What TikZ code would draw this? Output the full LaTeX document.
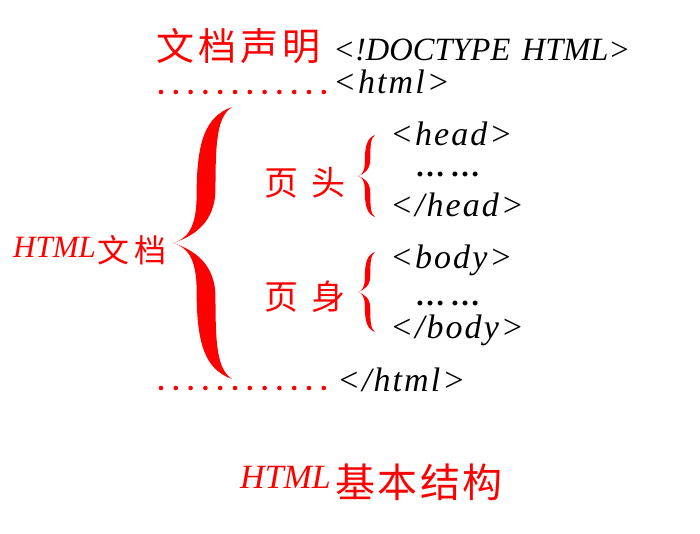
\documentclass[tikz,border=0pt]{standalone}
\usepackage{fontspec}
\setmainfont{Liberation Serif}
\newfontfamily\cjk{Noto Sans CJK SC}
\newfontfamily\tagfont[LetterSpace=6]{Liberation Serif}
\definecolor{cred}{RGB}{255,0,0}
\begin{document}
\begin{tikzpicture}[x=1pt,y=-1pt,
  redcjk/.style={text=cred, font=\cjk, inner sep=0pt, anchor=base west},
  redlatin/.style={text=cred, font=\itshape, inner sep=0pt, anchor=base west},
  tag/.style={text=black, font=\tagfont\itshape\fontsize{34}{34}\selectfont, inner sep=0pt, anchor=base west},
  dotsrow/.style={text=black, font=\bfseries\fontsize{30}{30}\selectfont, inner sep=0pt, anchor=base west},
  leader/.style={cred, line width=4.6pt, line cap=round, dash pattern=on 0pt off 14.8pt},
  bracepic/.pic={
    \fill (1,-1) .. controls (0.55,-0.93) and (0.4,-0.75) .. (0.4,-0.35)
      .. controls (0.4,-0.12) and (0.25,-0.03) .. (0,0)
      .. controls (0.35,-0.05) and (0.72,-0.15) .. (0.72,-0.4)
      .. controls (0.72,-0.75) and (0.75,-0.93) .. (1,-1) -- cycle;
    \fill (1,1) .. controls (0.55,0.93) and (0.4,0.75) .. (0.4,0.35)
      .. controls (0.4,0.12) and (0.25,0.03) .. (0,0)
      .. controls (0.35,0.05) and (0.72,0.15) .. (0.72,0.4)
      .. controls (0.72,0.75) and (0.75,0.93) .. (1,1) -- cycle;
  }]
\useasboundingbox[fill=white] (0,0) rectangle (700,533);

% top declaration
\node[redcjk] (decl) at (156,60) {\fontsize{38}{38}\selectfont 文\hspace{4pt}档\hspace{4pt}声\hspace{4pt}明};
\node[text=black, font=\itshape\fontsize{32.5}{32.5}\selectfont, inner sep=0pt, anchor=base west] (doctype) at (333,60) {<!DOCTYPE\hspace{0.35em}HTML>};

% html open
\coordinate (l1s) at (161,92);
\coordinate (l1e) at (324,92);
\draw[leader] (l1s) -- (l1e);
\node[tag] (htmlopen) at (333,93) {<html>};

% big brace
\pic[cred, xscale=59, yscale=136] (bigbrace) at (173,243) {bracepic};
\node[redlatin, font=\itshape\fontsize{31}{31}\selectfont] (htmlword) at (13,257) {HTML};
\node[redcjk] (wendang) at (97,262) {\fontsize{32}{32}\selectfont 文\hspace{5pt}档};

% head
\node[redcjk] (yetou) at (264,195) {\fontsize{34}{34}\selectfont 页\hspace{13pt}头};
\pic[cred, xscale=17, yscale=41] (headbrace) at (358,176) {bracepic};
\node[tag] (headopen) at (390,145) {<head>};
\node[dotsrow] (headdots) at (415,176) {…\hspace{5pt}…};
\node[tag] (headclose) at (390,216) {</head>};

% body
\node[redcjk] (yeshen) at (264,309) {\fontsize{34}{34}\selectfont 页\hspace{13pt}身};
\pic[cred, xscale=17, yscale=40] (bodybrace) at (358,292) {bracepic};
\node[tag] (bodyopen) at (390,268) {<body>};
\node[dotsrow] (bodydots) at (415,305) {…\hspace{5pt}…};
\node[tag] (bodyclose) at (390,338) {</body>};

% html close
\coordinate (l2s) at (161,388);
\coordinate (l2e) at (324,388);
\draw[leader] (l2s) -- (l2e);
\node[tag] (htmlclose) at (337,391) {</html>};

% caption
\node[redlatin, font=\itshape\fontsize{34}{34}\selectfont] (caphtml) at (240,488) {HTML};
\node[redcjk] (capcjk) at (335,497) {\fontsize{40}{40}\selectfont 基\hspace{2.5pt}本\hspace{2.5pt}结\hspace{2.5pt}构};
\end{tikzpicture}
\end{document}
